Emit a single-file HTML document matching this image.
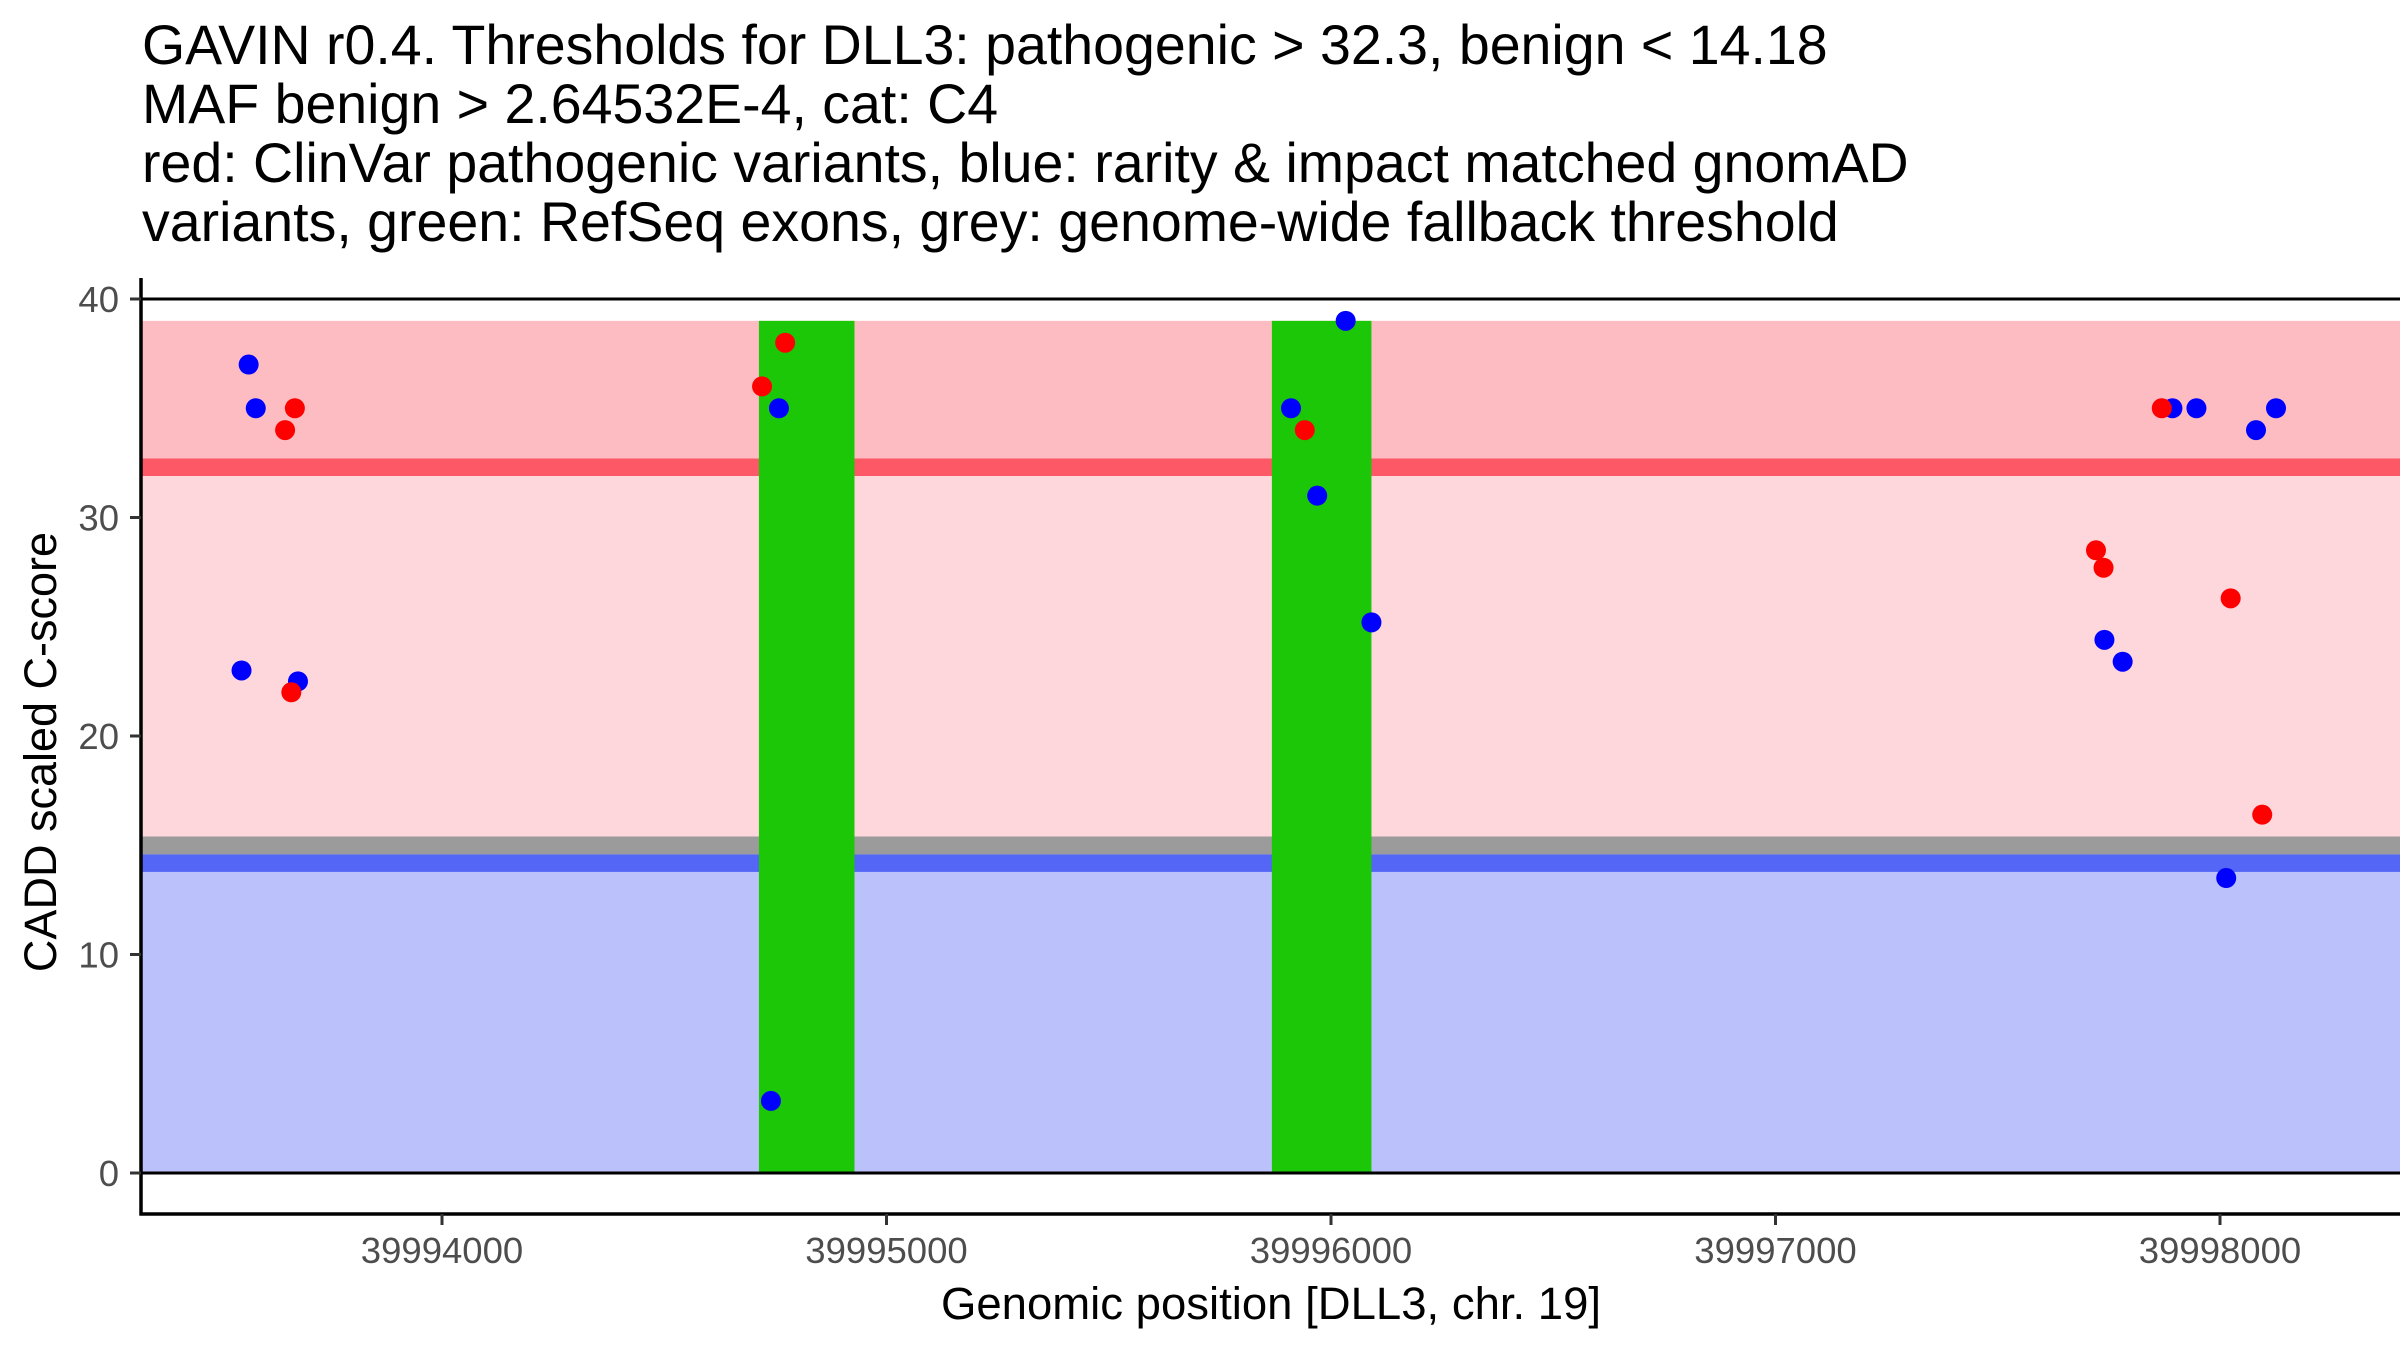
<!DOCTYPE html>
<html><head><meta charset="utf-8">
<style>
html,body{margin:0;padding:0;background:#fff;}
svg{display:block;font-family:"Liberation Sans",Arial,sans-serif;}
</style></head>
<body>
<svg id="chart" width="2400" height="1350" viewBox="0 0 2400 1350" xmlns="http://www.w3.org/2000/svg">
  <g font-size="55.5" fill="#000">
    <text x="142" y="64">GAVIN r0.4. Thresholds for DLL3: pathogenic &gt; 32.3, benign &lt; 14.18</text>
    <text x="142" y="123">MAF benign &gt; 2.64532E-4, cat: C4</text>
    <text x="142" y="182">red: ClinVar pathogenic variants, blue: rarity &amp; impact matched gnomAD</text>
    <text x="142" y="241">variants, green: RefSeq exons, grey: genome-wide fallback threshold</text>
  </g>
  <g id="bands"></g>
  <g id="exons"></g>
  <g id="refl"></g>
  <g id="pts"></g>
  <g id="axes"></g>
  <text transform="translate(56,752) rotate(-90)" text-anchor="middle" font-size="45" fill="#000">CADD scaled C-score</text>
  <text x="1271" y="1319" text-anchor="middle" font-size="45.5" fill="#000">Genomic position [DLL3, chr. 19]</text>
</svg>
<script>
const yTicks = [0, 10, 20, 30, 40];
const xTicks = [39994000, 39995000, 39996000, 39997000, 39998000];
const xTickLabels = ["39994000", "39995000", "39996000", "39997000", "39998000"];
const pathogenicThreshold = 32.3;
const benignThreshold = 14.18;
const fallbackThreshold = 15;
const bandTop = 39;
const exonStarts = [39994713, 39995867];
const exonEnds = [39994928, 39996091];
const redX = [39993647, 39993669, 39993661, 39994720, 39994772, 39995941, 39997869, 39997721, 39997738, 39998024, 39998095];
const redY = [34, 35, 22, 36, 38, 34, 35, 28.5, 27.7, 26.3, 16.4];
const blueX = [39993565, 39993581, 39993549, 39993676, 39994758, 39994740, 39996033, 39995910, 39995969, 39996091, 39997893, 39997947, 39998081, 39998126, 39997740, 39997781, 39998014];
const blueY = [37, 35, 23, 22.5, 35, 3.3, 39, 35, 31, 25.2, 35, 35, 34, 35, 24.4, 23.4, 13.5];

const NS = "http://www.w3.org/2000/svg";
const PL = 141, PR = 2400, PB = 1214, PT = 278;
function xs(v){ return 442 + (v - 39994000) * 0.4445; }
function ys(v){ return 1173 - v * 21.85; }
function mk(tag, attrs, parent){
  const e = document.createElementNS(NS, tag);
  for (const k in attrs) e.setAttribute(k, attrs[k]);
  parent.appendChild(e);
  return e;
}
const bands = document.getElementById('bands');
const halfW = 0.4;
let r;
r = mk('rect', {x:PL, y:ys(bandTop), width:PR-PL, height:ys(pathogenicThreshold)-ys(bandTop), fill:'#fdbcc1'}, bands);


r = mk('rect', {x:PL, y:ys(pathogenicThreshold), width:PR-PL, height:ys(fallbackThreshold)-ys(pathogenicThreshold), fill:'#fdd7db'}, bands);


r = mk('rect', {x:PL, y:ys(benignThreshold), width:PR-PL, height:ys(0)-ys(benignThreshold), fill:'#bbc1fa'}, bands);


r = mk('rect', {x:PL, y:ys(pathogenicThreshold+halfW), width:PR-PL, height:ys(pathogenicThreshold-halfW)-ys(pathogenicThreshold+halfW), fill:'#fc5866'}, bands);


r = mk('rect', {x:PL, y:ys(fallbackThreshold+0.4), width:PR-PL, height:ys(benignThreshold+0.4)-ys(fallbackThreshold+0.4), fill:'#9b9b9b'}, bands);


r = mk('rect', {x:PL, y:ys(benignThreshold+halfW), width:PR-PL, height:ys(benignThreshold-halfW)-ys(benignThreshold+halfW), fill:'#5466f5'}, bands);



const exons = document.getElementById('exons');
for (let i = 0; i < exonStarts.length; i++){
  const e = mk('rect', {x:xs(exonStarts[i]), y:ys(bandTop), width:xs(exonEnds[i])-xs(exonStarts[i]), height:ys(0)-ys(bandTop), fill:'#1bc706'}, exons);
  
  
}
const refl = document.getElementById('refl');
[0, 40].forEach(v => {
  const l = mk('line', {x1:PL, x2:PR, y1:ys(v), y2:ys(v), stroke:'#000', 'stroke-width':3}, refl);
  
  
});
const pts = document.getElementById('pts');
for (let i = 0; i < blueX.length; i++){
  const c = mk('circle', {cx:xs(blueX[i]), cy:ys(blueY[i]), r:10, fill:'#0000ff'}, pts);
  
  
}
for (let i = 0; i < redX.length; i++){
  const c = mk('circle', {cx:xs(redX[i]), cy:ys(redY[i]), r:10, fill:'#ff0000'}, pts);
  
  
}
const axes = document.getElementById('axes');
let a = mk('line', {x1:PL, x2:PL, y1:PT, y2:PB+1.5, stroke:'#000', 'stroke-width':3.5}, axes);


a = mk('line', {x1:PL-1.5, x2:PR, y1:PB, y2:PB, stroke:'#000', 'stroke-width':3.5}, axes);


yTicks.forEach(v => {
  const t = mk('line', {x1:PL-11, x2:PL, y1:ys(v), y2:ys(v), stroke:'#333', 'stroke-width':3}, axes);
  
  
  const tx = mk('text', {x:PL-22, y:ys(v)+13, 'text-anchor':'end', 'font-size':36.5, fill:'#4d4d4d'}, axes);
  tx.textContent = String(v);
  
  
});
xTicks.forEach((v, i) => {
  const t = mk('line', {x1:xs(v), x2:xs(v), y1:PB, y2:PB+11, stroke:'#333', 'stroke-width':3}, axes);
  
  
  const tx = mk('text', {x:xs(v), y:1263, 'text-anchor':'middle', 'font-size':36.5, fill:'#4d4d4d'}, axes);
  tx.textContent = xTickLabels[i];
  
  
});
</script>
</body></html>
